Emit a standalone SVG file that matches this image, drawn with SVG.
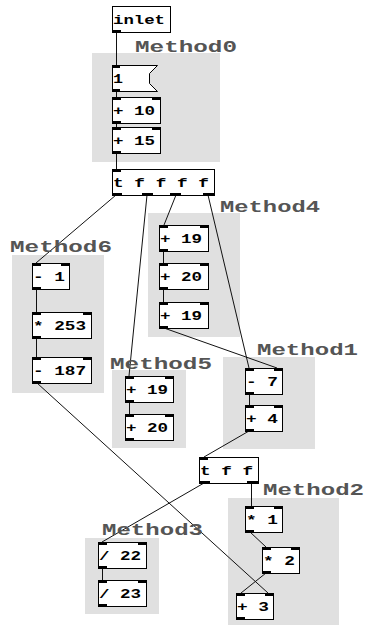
<svg xmlns="http://www.w3.org/2000/svg" width="365" height="625" viewBox="0 0 365 625">
<style>
.grp{fill:#e0e0e0}
.lbl{font-family:"Liberation Mono",monospace;font-weight:bold;font-size:16px;fill:#555}
.bx{fill:#fff;stroke:#000;stroke-width:1}
.io{fill:#000}
.t{font-family:"Liberation Mono",monospace;font-weight:bold;font-size:12px;fill:#000}
.c{stroke:#111;stroke-width:1;fill:none}
</style>
<rect width="365" height="625" fill="#fff"/>
<g id="groups">
<rect class="grp" x="92" y="53" width="128" height="109"/>
<rect class="grp" x="12" y="255" width="92" height="138"/>
<rect class="grp" x="148" y="213" width="92" height="124"/>
<rect class="grp" x="112" y="370" width="74" height="78"/>
<rect class="grp" x="223" y="357" width="92" height="92"/>
<rect class="grp" x="228" y="498" width="111" height="127"/>
<rect class="grp" x="85" y="538" width="74" height="76"/>
</g>
<g id="connectors">
<line class="c" x1="116.5" y1="32" x2="116.5" y2="65"/>
<line class="c" x1="116.5" y1="91" x2="116.5" y2="97"/>
<line class="c" x1="116.5" y1="123" x2="116.5" y2="127"/>
<line class="c" x1="116.5" y1="153" x2="116.5" y2="169"/>
<line class="c" x1="116" y1="195" x2="36" y2="263"/>
<line class="c" x1="147" y1="195" x2="129" y2="376"/>
<line class="c" x1="176" y1="195" x2="164" y2="225"/>
<line class="c" x1="208" y1="195" x2="249" y2="368"/>
<line class="c" x1="36.5" y1="289" x2="36.5" y2="312"/>
<line class="c" x1="36.5" y1="338" x2="36.5" y2="357"/>
<line class="c" x1="37" y1="383" x2="268" y2="593"/>
<line class="c" x1="163.5" y1="251" x2="163.5" y2="263"/>
<line class="c" x1="163.5" y1="289" x2="163.5" y2="302"/>
<line class="c" x1="164" y1="328" x2="277" y2="368"/>
<line class="c" x1="129.5" y1="402" x2="129.5" y2="414"/>
<line class="c" x1="249.5" y1="394" x2="249.5" y2="405"/>
<line class="c" x1="249" y1="431" x2="204" y2="457"/>
<line class="c" x1="204" y1="483" x2="102" y2="542"/>
<line class="c" x1="251.5" y1="483" x2="251.5" y2="506"/>
<line class="c" x1="250" y1="532" x2="266" y2="547"/>
<line class="c" x1="266" y1="573" x2="241" y2="593"/>
<line class="c" x1="102.5" y1="568" x2="102.5" y2="580"/>
</g>
<g id="labels">
<text class="lbl" x="135" y="52" textLength="102" lengthAdjust="spacingAndGlyphs">Method0</text>
<text class="lbl" x="10" y="252" textLength="102" lengthAdjust="spacingAndGlyphs">Method6</text>
<text class="lbl" x="220" y="212" textLength="100" lengthAdjust="spacingAndGlyphs">Method4</text>
<text class="lbl" x="110" y="369" textLength="102" lengthAdjust="spacingAndGlyphs">Method5</text>
<text class="lbl" x="257" y="355" textLength="101" lengthAdjust="spacingAndGlyphs">Method1</text>
<text class="lbl" x="263" y="495" textLength="101" lengthAdjust="spacingAndGlyphs">Method2</text>
<text class="lbl" x="102" y="535" textLength="101" lengthAdjust="spacingAndGlyphs">Method3</text>
</g>
<g id="n_inlet"><rect class="bx" x="112.5" y="6.5" width="58" height="26"/><rect class="io" x="112" y="30" width="9" height="3"/><text class="t" x="113" y="24" textLength="52" lengthAdjust="spacingAndGlyphs">inlet</text></g>
<g id="n_msg1"><polygon class="bx" points="112.5,65.5 157.5,65.5 149.5,73.5 149.5,83.5 157.5,91.5 112.5,91.5"/><rect class="io" x="112" y="65" width="8" height="3"/><rect class="io" x="112" y="89" width="8" height="3"/><text class="t" x="113" y="83" textLength="10" lengthAdjust="spacingAndGlyphs">1</text></g>
<g id="n_add10"><rect class="bx" x="112.5" y="97.5" width="48" height="26"/><rect class="io" x="112" y="97" width="9" height="3"/><rect class="io" x="152" y="97" width="9" height="3"/><rect class="io" x="112" y="121" width="9" height="3"/><text class="t" x="113" y="115" textLength="42" lengthAdjust="spacingAndGlyphs">+ 10</text></g>
<g id="n_add15"><rect class="bx" x="112.5" y="127.5" width="48" height="26"/><rect class="io" x="112" y="127" width="9" height="3"/><rect class="io" x="152" y="127" width="9" height="3"/><rect class="io" x="112" y="151" width="9" height="3"/><text class="t" x="113" y="145" textLength="42" lengthAdjust="spacingAndGlyphs">+ 15</text></g>
<g id="n_trig5"><rect class="bx" x="112.5" y="169.5" width="102" height="26"/><rect class="io" x="112" y="169" width="9" height="3"/><rect class="io" x="112" y="193" width="10" height="3"/><rect class="io" x="142" y="193" width="11" height="3"/><rect class="io" x="170" y="193" width="11" height="3"/><rect class="io" x="203" y="193" width="11" height="3"/><text class="t" x="113" y="187" textLength="96" lengthAdjust="spacingAndGlyphs">t f f f f</text></g>
<g id="n_sub1"><rect class="bx" x="32.5" y="263.5" width="37" height="26"/><rect class="io" x="32" y="263" width="9" height="3"/><rect class="io" x="61" y="263" width="9" height="3"/><rect class="io" x="32" y="287" width="9" height="3"/><text class="t" x="33" y="281" textLength="32" lengthAdjust="spacingAndGlyphs">- 1</text></g>
<g id="n_mul253"><rect class="bx" x="32.5" y="312.5" width="59" height="26"/><rect class="io" x="32" y="312" width="9" height="3"/><rect class="io" x="83" y="312" width="9" height="3"/><rect class="io" x="32" y="336" width="9" height="3"/><text class="t" x="33" y="330" textLength="53" lengthAdjust="spacingAndGlyphs">* 253</text></g>
<g id="n_sub187"><rect class="bx" x="32.5" y="357.5" width="59" height="26"/><rect class="io" x="32" y="357" width="9" height="3"/><rect class="io" x="83" y="357" width="9" height="3"/><rect class="io" x="32" y="381" width="9" height="3"/><text class="t" x="33" y="375" textLength="53" lengthAdjust="spacingAndGlyphs">- 187</text></g>
<g id="n_m4_add19"><rect class="bx" x="159.5" y="225.5" width="49" height="26"/><rect class="io" x="159" y="225" width="9" height="3"/><rect class="io" x="200" y="225" width="9" height="3"/><rect class="io" x="159" y="249" width="9" height="3"/><text class="t" x="160" y="243" textLength="42" lengthAdjust="spacingAndGlyphs">+ 19</text></g>
<g id="n_m4_add20"><rect class="bx" x="159.5" y="263.5" width="49" height="26"/><rect class="io" x="159" y="263" width="9" height="3"/><rect class="io" x="200" y="263" width="9" height="3"/><rect class="io" x="159" y="287" width="9" height="3"/><text class="t" x="160" y="281" textLength="42" lengthAdjust="spacingAndGlyphs">+ 20</text></g>
<g id="n_m4_add19b"><rect class="bx" x="159.5" y="302.5" width="49" height="26"/><rect class="io" x="159" y="302" width="9" height="3"/><rect class="io" x="200" y="302" width="9" height="3"/><rect class="io" x="159" y="326" width="9" height="3"/><text class="t" x="160" y="320" textLength="42" lengthAdjust="spacingAndGlyphs">+ 19</text></g>
<g id="n_m5_add19"><rect class="bx" x="125.5" y="376.5" width="48" height="26"/><rect class="io" x="125" y="376" width="9" height="3"/><rect class="io" x="165" y="376" width="9" height="3"/><rect class="io" x="125" y="400" width="9" height="3"/><text class="t" x="126" y="394" textLength="42" lengthAdjust="spacingAndGlyphs">+ 19</text></g>
<g id="n_m5_add20"><rect class="bx" x="125.5" y="414.5" width="48" height="26"/><rect class="io" x="125" y="414" width="9" height="3"/><rect class="io" x="165" y="414" width="9" height="3"/><rect class="io" x="125" y="438" width="9" height="3"/><text class="t" x="126" y="432" textLength="42" lengthAdjust="spacingAndGlyphs">+ 20</text></g>
<g id="n_sub7"><rect class="bx" x="245.5" y="368.5" width="37" height="26"/><rect class="io" x="245" y="368" width="9" height="3"/><rect class="io" x="274" y="368" width="9" height="3"/><rect class="io" x="245" y="392" width="9" height="3"/><text class="t" x="246" y="386" textLength="32" lengthAdjust="spacingAndGlyphs">- 7</text></g>
<g id="n_add4"><rect class="bx" x="245.5" y="405.5" width="37" height="26"/><rect class="io" x="245" y="405" width="9" height="3"/><rect class="io" x="274" y="405" width="9" height="3"/><rect class="io" x="245" y="429" width="9" height="3"/><text class="t" x="246" y="423" textLength="32" lengthAdjust="spacingAndGlyphs">+ 4</text></g>
<g id="n_trig3"><rect class="bx" x="199.5" y="457.5" width="59" height="26"/><rect class="io" x="199" y="457" width="9" height="3"/><rect class="io" x="199" y="481" width="11" height="3"/><rect class="io" x="247" y="481" width="12" height="3"/><text class="t" x="200" y="475" textLength="53" lengthAdjust="spacingAndGlyphs">t f f</text></g>
<g id="n_mul1"><rect class="bx" x="245.5" y="506.5" width="37" height="26"/><rect class="io" x="245" y="506" width="9" height="3"/><rect class="io" x="274" y="506" width="9" height="3"/><rect class="io" x="245" y="530" width="9" height="3"/><text class="t" x="246" y="524" textLength="32" lengthAdjust="spacingAndGlyphs">* 1</text></g>
<g id="n_mul2"><rect class="bx" x="262.5" y="547.5" width="37" height="26"/><rect class="io" x="262" y="547" width="9" height="3"/><rect class="io" x="291" y="547" width="9" height="3"/><rect class="io" x="262" y="571" width="9" height="3"/><text class="t" x="263" y="565" textLength="32" lengthAdjust="spacingAndGlyphs">* 2</text></g>
<g id="n_add3"><rect class="bx" x="236.5" y="593.5" width="37" height="26"/><rect class="io" x="236" y="593" width="9" height="3"/><rect class="io" x="265" y="593" width="9" height="3"/><rect class="io" x="236" y="617" width="9" height="3"/><text class="t" x="237" y="611" textLength="32" lengthAdjust="spacingAndGlyphs">+ 3</text></g>
<g id="n_div22"><rect class="bx" x="98.5" y="542.5" width="48" height="26"/><rect class="io" x="98" y="542" width="9" height="3"/><rect class="io" x="138" y="542" width="9" height="3"/><rect class="io" x="98" y="566" width="9" height="3"/><text class="t" x="99" y="560" textLength="42" lengthAdjust="spacingAndGlyphs">/ 22</text></g>
<g id="n_div23"><rect class="bx" x="98.5" y="580.5" width="48" height="26"/><rect class="io" x="98" y="580" width="9" height="3"/><rect class="io" x="138" y="580" width="9" height="3"/><rect class="io" x="98" y="604" width="9" height="3"/><text class="t" x="99" y="598" textLength="42" lengthAdjust="spacingAndGlyphs">/ 23</text></g>
</svg>
